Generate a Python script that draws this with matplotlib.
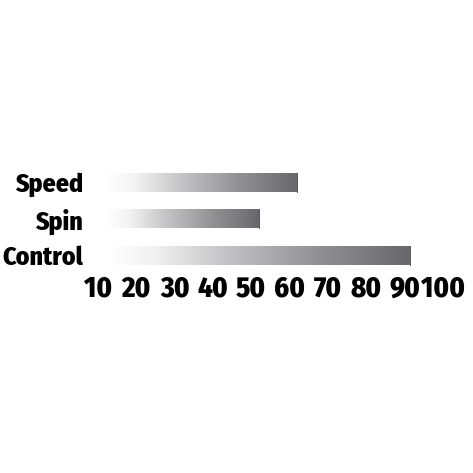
import numpy as np
import matplotlib
matplotlib.use('Agg')
import matplotlib.pyplot as plt
from matplotlib.colors import LinearSegmentedColormap
from matplotlib import font_manager

# data
categories = ['Control', 'Spin', 'Speed']
values = [91.5, 52, 62]
bar_start = 12.3
tick_values = [10, 20, 30, 40, 50, 60, 70, 80, 90, 100]

# bold condensed font if available
names = {f.name for f in font_manager.fontManager.ttflist}
fam = ['DejaVu Sans']
for cand in ['Fira Sans Condensed', 'PT Sans Narrow', 'Roboto Condensed', 'Liberation Sans Narrow']:
    if cand in names:
        fam = [cand, 'DejaVu Sans']
        break
plt.rcParams['font.family'] = fam

grad = LinearSegmentedColormap.from_list('bar', [
    (0.0, '#ffffff'),
    (0.15, '#f2f2f2'),
    (0.4, '#c2c2c4'),
    (0.7, '#909093'),
    (1.0, '#68686c'),
])

fig = plt.figure(figsize=(4.73, 4.73), dpi=100)
W = H = 473.0
# axes: x=10 at px 98, x=100 at px 443; y from px 164.25 (top) to 273.75 (bottom)
ax = fig.add_axes([98 / W, 1 - 273.75 / H, 345 / W, (273.75 - 164.25) / H])

bar_h = 0.52
g = np.linspace(0, 1, 256).reshape(1, -1)
for i, v in enumerate(values):
    ax.imshow(g, cmap=grad, aspect='auto', interpolation='bilinear',
              extent=(bar_start, v, i - bar_h / 2, i + bar_h / 2), zorder=2)
    ax.plot([v, v], [i - bar_h / 2, i + bar_h / 2], color='#5a5a5e', lw=0.7, zorder=3)

ax.set_xlim(10, 100)
ax.set_ylim(-0.5, 2.5)
for s in ax.spines.values():
    s.set_visible(False)

ax.set_yticks(range(len(categories)))
ax.set_yticklabels(categories, fontsize=18.5, fontweight='heavy')
ax.set_xticks(tick_values)
ax.set_xticklabels([str(t) for t in tick_values], fontsize=20.5, fontweight='heavy')
ax.tick_params(axis='y', length=0, pad=11)
ax.tick_params(axis='x', length=0, pad=1)

fig.savefig('out.png', dpi=100, facecolor='white')
